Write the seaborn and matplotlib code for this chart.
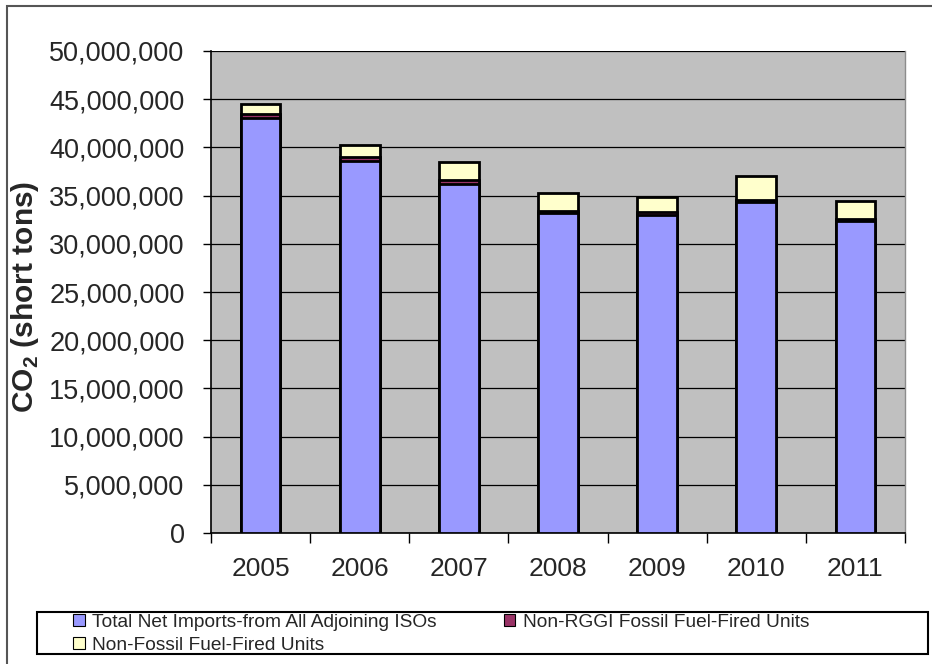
import matplotlib
matplotlib.use("Agg")
import matplotlib.pyplot as plt
from matplotlib.patches import Patch, Rectangle
from matplotlib.ticker import FuncFormatter, FixedLocator, MultipleLocator
import seaborn as sns
import pandas as pd
import numpy as np

years = ["2005", "2006", "2007", "2008", "2009", "2010", "2011"]
imports_isos = [43.0e6, 38.6e6, 36.2e6, 33.2e6, 33.0e6, 34.3e6, 32.4e6]
non_rggi_fossil = [0.5e6, 0.4e6, 0.4e6, 0.25e6, 0.25e6, 0.2e6, 0.2e6]
non_fossil = [1.0e6, 1.3e6, 1.9e6, 1.85e6, 1.65e6, 2.5e6, 1.8e6]
series_names = ["Total Net Imports-from All Adjoining ISOs",
                "Non-RGGI Fossil Fuel-Fired Units",
                "Non-Fossil Fuel-Fired Units"]
colors = ["#9999FF", "#993366", "#FFFFCC"]

df = pd.DataFrame({"year": years, "a": imports_isos, "b": non_rggi_fossil, "c": non_fossil})
df["cum_a"] = df["a"]
df["cum_b"] = df["a"] + df["b"]
df["cum_c"] = df["a"] + df["b"] + df["c"]

sns.set_style("white")
plt.rcParams["font.family"] = ["Liberation Sans", "DejaVu Sans"]
plt.rcParams["mathtext.fontset"] = "custom"
plt.rcParams["mathtext.rm"] = "Liberation Sans"
plt.rcParams["mathtext.bf"] = "Liberation Sans:bold"

fig = plt.figure(figsize=(9.32, 6.64), dpi=100)
fig.patch.set_facecolor("white")
ax = fig.add_axes([211 / 932, 1 - 533 / 664, (905 - 211) / 932, (533 - 51) / 664])
ax.set_facecolor("#C0C0C0")

for col, colr in zip(["cum_c", "cum_b", "cum_a"], colors[::-1]):
    sns.barplot(data=df, x="year", y=col, color=colr, saturation=1, width=0.4,
                edgecolor="black", linewidth=2.0, errorbar=None, ax=ax, zorder=3)

ax.set_ylim(0, 50e6)
ax.set_xlim(-0.5, len(years) - 0.5)
ax.yaxis.set_major_locator(MultipleLocator(5e6))
ax.yaxis.set_major_formatter(FuncFormatter(lambda v, p: f"{int(v):,}"))
ax.grid(axis="y", color="black", linewidth=0.9, zorder=1)
ax.set_axisbelow(True)

ax.xaxis.set_minor_locator(FixedLocator(np.arange(-0.5, len(years), 1.0)))
ax.tick_params(axis="x", which="major", length=0, pad=17, labelsize=19)
ax.tick_params(axis="x", which="minor", length=7, width=1, color="black", direction="out", bottom=True)
ax.tick_params(axis="y", which="major", length=6, width=1, color="black", direction="out",
               left=True, pad=13, labelsize=19.5)

ax.spines["top"].set_visible(False)
ax.spines["right"].set_color("#8C8C8C")
ax.spines["right"].set_linewidth(1)
for s in ["left", "bottom"]:
    ax.spines[s].set_color("black")
    ax.spines[s].set_linewidth(1.2)

ax.set_xlabel("")
ax.set_ylabel(r"CO$_\mathbf{2}$ (short tons)", fontsize=21.5, fontweight="bold")
ax.yaxis.set_label_coords((41 - 211) / 694, 0.49)

# outer chart border (top/left visible)
fig.patches.append(Rectangle((7 / 932, -0.2), 1.2, 0.2 + (1 - 6 / 664), transform=fig.transFigure,
                             fill=False, edgecolor="#555555", linewidth=1.5))
# legend box
fig.patches.append(Rectangle((37 / 932, 10 / 664), (928 - 37) / 932, 42 / 664,
                             transform=fig.transFigure, fill=False, edgecolor="black", linewidth=1.5))

handles = [Patch(facecolor=c, edgecolor="black", linewidth=0.8) for c in colors]
order = [0, 2, 1]
fig.legend([handles[i] for i in order], [series_names[i] for i in order], loc="upper left",
           bbox_to_anchor=(73 / 932, 1 - 614 / 664),
           ncol=2, frameon=False, borderpad=0, borderaxespad=0, handlelength=0.6, handleheight=0.6,
           handletextpad=0.4, columnspacing=3.5, labelspacing=0.3,
           prop={"family": ["Liberation Sans"], "size": 13.8})

fig.savefig("out.png", dpi=100)
